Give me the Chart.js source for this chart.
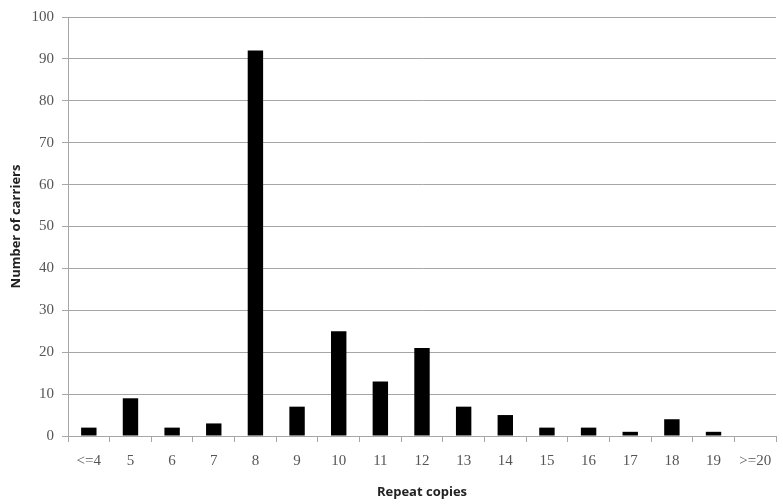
<!DOCTYPE html>
<html lang="en">
<head>
  <meta charset="UTF-8" />
  <title>Repeat copies</title>
  <script src="https://cdn.jsdelivr.net/npm/chart.js"></script>
  <style>
    html, body { margin: 0; padding: 0; background: #fff; }
    #wrap { width: 783px; height: 504px; }
  </style>
</head>
<body>
  <div id="wrap"><canvas id="chart"></canvas></div>
  <script>
    // data
    const categories = ['<=4', '5', '6', '7', '8', '9', '10', '11', '12', '13', '14', '15', '16', '17', '18', '19', '>=20'];
    const carriers = [2, 9, 2, 3, 92, 7, 25, 13, 21, 7, 5, 2, 2, 1, 4, 1, 0];
    const yTicks = [0, 10, 20, 30, 40, 50, 60, 70, 80, 90, 100];

    const lineGrey = '#a6a6a6';
    const tickFont = { family: '"Liberation Serif", "DejaVu Serif", serif', size: 15 };
    const titleFont = { family: '"Open Sans", "Liberation Sans", sans-serif', size: 13, weight: 'bold' };

    new Chart(document.getElementById('chart'), {
      type: 'bar',
      data: {
        labels: categories,
        datasets: [{
          label: 'Number of carriers',
          data: carriers,
          backgroundColor: '#000',
          borderWidth: 0,
          barPercentage: 0.37,
          categoryPercentage: 1
        }]
      },
      options: {
        responsive: true,
        maintainAspectRatio: false,
        animation: false,
        layout: { padding: { top: 16, right: 7, left: 0, bottom: 0 } },
        plugins: { legend: { display: false }, tooltip: { enabled: false } },
        scales: {
          x: {
            grid: { drawOnChartArea: false, drawTicks: true, tickLength: 6, color: lineGrey, offset: true },
            border: { color: lineGrey },
            ticks: { color: '#555', font: tickFont, padding: 10, maxRotation: 0, autoSkip: false },
            title: { display: true, text: 'Repeat copies', color: '#222', font: titleFont, padding: { top: 6 } },
            afterFit: s => { s.height = 68; }
          },
          y: {
            min: 0,
            max: 100,
            afterBuildTicks: s => { s.ticks = yTicks.map(v => ({ value: v })); },
            grid: { color: lineGrey, tickLength: 6 },
            border: { color: lineGrey },
            ticks: { color: '#555', font: tickFont, padding: 8 },
            title: { display: true, text: 'Number of carriers', color: '#222', font: titleFont, padding: { top: 8, bottom: 2 } },
            afterFit: s => { s.width = 68; }
          }
        }
      }
    });
  </script>
</body>
</html>
